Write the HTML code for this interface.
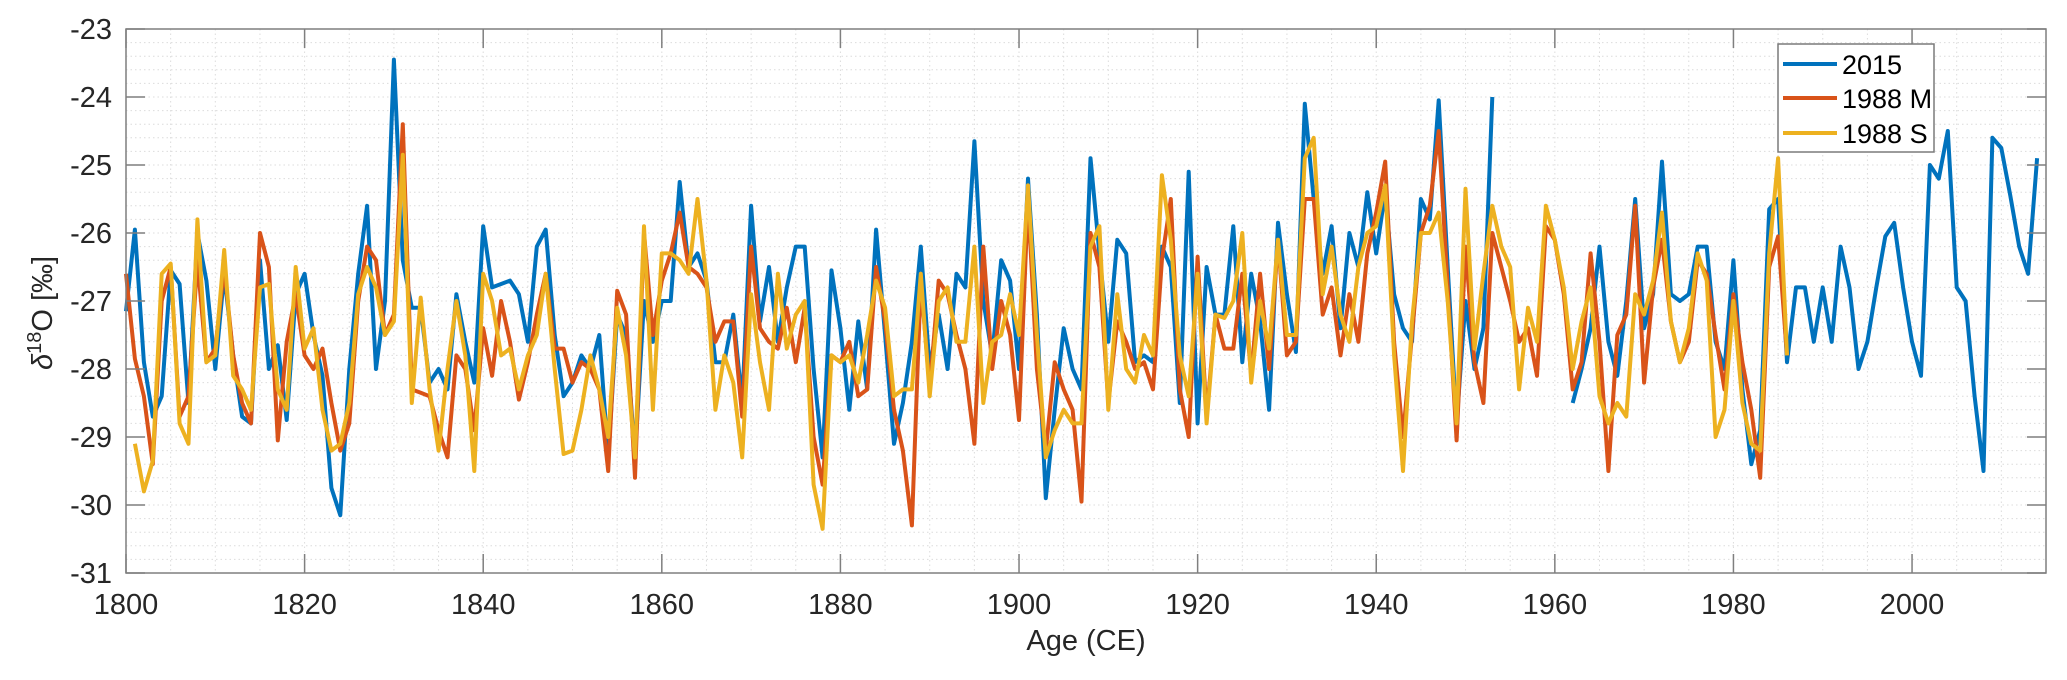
<!DOCTYPE html>
<html><head><meta charset="utf-8"><style>
html,body{margin:0;padding:0;background:#fff;}
svg{display:block;font-family:"Liberation Sans",Arial,sans-serif;}
</style></head><body>
<svg id="chart" width="2067" height="680" viewBox="0 0 2067 680" xmlns="http://www.w3.org/2000/svg">
<rect x="126" y="29" width="1920" height="544" fill="#fff"/>
<g id="grid"></g>
<g id="series"></g>
<g id="axes"></g>
<text x="1086" y="650" font-size="29" text-anchor="middle" fill="#262626">Age (CE)</text>
<text transform="translate(52,313) rotate(-90)" font-size="29" text-anchor="middle" fill="#262626"><tspan font-style="italic">δ</tspan><tspan dy="-11" font-size="20">18</tspan><tspan dy="11">O [‰]</tspan></text>
<g>
<rect x="1778" y="44" width="156" height="108" fill="#fff" stroke="#7a7a7a" stroke-width="1.5"/>
<line x1="1783" y1="64" x2="1837" y2="64" stroke="#0072BD" stroke-width="4"/>
<text x="1842" y="74" font-size="27" fill="#000">2015</text>
<line x1="1783" y1="98" x2="1837" y2="98" stroke="#D95319" stroke-width="4"/>
<text x="1842" y="108" font-size="27" fill="#000">1988 M</text>
<line x1="1783" y1="133" x2="1837" y2="133" stroke="#EDB120" stroke-width="4"/>
<text x="1842" y="143" font-size="27" fill="#000">1988 S</text>
</g>
</svg>
<script>
const xTicks = [1800,1820,1840,1860,1880,1900,1920,1940,1960,1980,2000];
const yTicks = [-23,-24,-25,-26,-27,-28,-29,-30,-31];
const blueStart = 1800;
const blueA = [-27.15,-25.95,-27.9,-28.7,-28.4,-26.55,-26.75,-28.5,-26.0,-26.7,-28.0,-26.6,-27.8,-28.7,-28.8,-26.4,-28.0,-27.65,-28.75,-26.9,-26.6,-27.5,-28.1,-29.75,-30.15,-28.0,-26.6,-25.6,-28.0,-27.0,-23.45,-26.4,-27.1,-27.1,-28.2,-28.0,-28.3,-26.9,-27.6,-28.2,-25.9,-26.8,-26.75,-26.7,-26.9,-27.6,-26.2,-25.95,-27.5,-28.4,-28.2,-27.8,-28.0,-27.5,-29.3,-27.2,-27.5,-29.3,-27.0,-27.6,-27.0,-27.0,-25.25,-26.5,-26.3,-26.7,-27.9,-27.9,-27.2,-28.5,-25.6,-27.3,-26.5,-27.6,-26.8,-26.2,-26.2,-28.0,-29.3,-26.55,-27.4,-28.6,-27.3,-28.3,-25.95,-27.5,-29.1,-28.5,-27.6,-26.2,-28.0,-27.2,-28.0,-26.6,-26.8,-24.65,-27.0,-27.8,-26.4,-26.7,-28.0,-25.2,-27.2,-29.9,-28.6,-27.4,-28.0,-28.3,-24.9,-26.3,-27.6,-26.1,-26.3,-27.9,-27.8,-27.9,-26.2,-26.5,-28.5,-25.1,-28.8,-26.5,-27.2,-27.2,-25.9,-27.9,-26.6,-27.3,-28.6,-25.85,-26.9,-27.75,-24.1,-25.5,-26.6,-25.9,-27.4,-26.0,-26.5,-25.4,-26.3,-25.4,-26.9,-27.4,-27.6,-25.5,-25.8,-24.05,-26.5,-28.8,-27.0,-28.0,-27.4,-24.0];
const blueStart2 = 1962;
const blueB = [-28.5,-28.0,-27.4,-26.2,-27.6,-28.1,-27.0,-25.5,-27.4,-26.9,-24.95,-26.9,-27.0,-26.9,-26.2,-26.2,-27.6,-28.0,-26.4,-28.3,-29.4,-28.9,-25.65,-25.5,-27.9,-26.8,-26.8,-27.6,-26.8,-27.6,-26.2,-26.8,-28.0,-27.6,-26.8,-26.05,-25.85,-26.8,-27.6,-28.1,-25.0,-25.2,-24.5,-26.8,-27.0,-28.4,-29.5,-24.6,-24.75,-25.45,-26.2,-26.6,-24.9];
const redStart = 1800;
const redVals = [-26.6,-27.85,-28.4,-29.4,-27.0,-26.5,-28.7,-28.4,-26.4,-27.9,-27.7,-26.5,-27.8,-28.5,-28.8,-26.0,-26.5,-29.05,-27.6,-26.9,-27.8,-28.0,-27.7,-28.5,-29.2,-28.8,-27.0,-26.2,-26.4,-27.5,-27.2,-24.4,-28.3,-28.35,-28.4,-28.9,-29.3,-27.8,-28.0,-28.9,-27.4,-28.1,-27.0,-27.6,-28.45,-27.9,-27.2,-26.6,-27.7,-27.7,-28.2,-27.9,-28.0,-28.3,-29.5,-26.85,-27.2,-29.6,-26.0,-27.5,-26.7,-26.3,-25.7,-26.5,-26.6,-26.8,-27.6,-27.3,-27.3,-28.7,-26.2,-27.4,-27.6,-27.7,-27.1,-27.9,-27.1,-29.0,-29.7,-27.8,-27.9,-27.6,-28.4,-28.3,-26.5,-27.3,-28.6,-29.2,-30.3,-26.7,-28.3,-26.7,-26.9,-27.5,-28.0,-29.1,-26.2,-28.0,-27.0,-27.5,-28.75,-25.5,-28.0,-29.2,-27.9,-28.3,-28.6,-29.95,-26.0,-26.5,-28.5,-27.3,-27.6,-28.0,-27.9,-28.3,-26.4,-25.5,-28.3,-29.0,-26.35,-28.7,-27.2,-27.7,-27.7,-26.6,-28.1,-26.6,-28.0,-26.1,-27.8,-27.6,-25.5,-25.5,-27.2,-26.8,-27.8,-26.9,-27.6,-26.3,-25.7,-24.95,-27.6,-29.0,-27.5,-26.0,-25.6,-24.5,-26.8,-29.05,-26.2,-27.9,-28.5,-26.0,-26.5,-27.0,-27.6,-27.4,-28.1,-25.9,-26.1,-26.9,-28.3,-27.9,-26.3,-27.6,-29.5,-27.5,-27.2,-25.6,-28.2,-26.8,-26.1,-27.3,-27.9,-27.6,-26.4,-26.6,-27.5,-28.3,-26.9,-27.9,-28.6,-29.6,-26.5,-26.05,-27.8];
const yellowStart = 1801;
const yellowVals = [-29.1,-29.8,-29.35,-26.6,-26.45,-28.8,-29.1,-25.8,-27.9,-27.8,-26.25,-28.1,-28.3,-28.6,-26.8,-26.75,-28.3,-28.6,-26.5,-27.7,-27.4,-28.6,-29.2,-29.1,-28.5,-26.9,-26.5,-26.8,-27.5,-27.3,-24.85,-28.5,-26.95,-28.3,-29.2,-28.0,-27.0,-27.8,-29.5,-26.6,-27.0,-27.8,-27.7,-28.3,-27.8,-27.5,-26.6,-28.0,-29.25,-29.2,-28.6,-27.8,-28.3,-29.0,-27.1,-27.8,-29.3,-25.9,-28.6,-26.3,-26.3,-26.4,-26.6,-25.5,-26.7,-28.6,-27.8,-28.2,-29.3,-26.9,-27.9,-28.6,-26.6,-27.7,-27.2,-27.0,-29.7,-30.35,-27.8,-27.9,-27.8,-28.2,-27.5,-26.7,-27.1,-28.4,-28.3,-28.3,-26.6,-28.4,-27.0,-26.8,-27.6,-27.6,-26.2,-28.5,-27.6,-27.5,-26.9,-27.5,-25.3,-27.5,-29.3,-28.9,-28.6,-28.8,-28.8,-26.2,-25.9,-28.6,-26.9,-28.0,-28.2,-27.5,-27.8,-25.15,-26.1,-27.8,-28.4,-26.6,-28.8,-27.2,-27.25,-27.0,-26.0,-28.2,-27.0,-27.7,-26.1,-27.5,-27.5,-24.9,-24.6,-26.9,-26.2,-27.2,-27.6,-26.5,-26.0,-25.9,-25.3,-27.8,-29.5,-27.3,-26.0,-26.0,-25.7,-27.0,-28.8,-25.35,-27.7,-26.6,-25.6,-26.2,-26.5,-28.3,-27.1,-27.6,-25.6,-26.1,-26.8,-28.0,-27.3,-26.8,-28.4,-28.8,-28.5,-28.7,-26.9,-27.2,-26.7,-25.7,-27.3,-27.9,-27.4,-26.3,-26.7,-29.0,-28.6,-27.0,-28.5,-29.1,-29.2,-26.3,-24.9,-27.8];

const X0=126, X1=2046, Y0=29, Y1=573, XMIN=1800, XMAX=2015, YMIN=-31, YMAX=-23;
const sx = v => X0 + (v-XMIN)/(XMAX-XMIN)*(X1-X0);
const sy = v => Y1 - (v-YMIN)/(YMAX-YMIN)*(Y1-Y0);
const NS='http://www.w3.org/2000/svg';
function mk(tag, attrs, parent){const e=document.createElementNS(NS,tag);for(const k in attrs)e.setAttribute(k,attrs[k]);parent.appendChild(e);return e;}
const grid=document.getElementById('grid'), axes=document.getElementById('axes'), ser=document.getElementById('series');
// minor grid
for(let yr=1805; yr<2015; yr+=5){
  const l=mk('line',{x1:sx(yr),x2:sx(yr),y1:Y0,y2:Y1,stroke:'#dcdcdc','stroke-width':1,'stroke-dasharray':'1.5 3'},grid);
  
  
}
for(let i=1;i<40;i++){
  const v=YMIN+i*0.2;
  const l=mk('line',{x1:X0,x2:X1,y1:sy(v),y2:sy(v),stroke:'#dcdcdc','stroke-width':1,'stroke-dasharray':'1.5 3'},grid);
  
  
}
// series
function drawLine(start, vals, color, name){
  const pts=vals.map((v,i)=>sx(start+i).toFixed(1)+','+sy(v).toFixed(1)).join(' ');
  const p=mk('polyline',{points:pts,fill:'none',stroke:color,'stroke-width':4,'stroke-linejoin':'round'},ser);
  
  
}
drawLine(blueStart, blueA, '#0072BD', 'series-2015-part1');
drawLine(blueStart2, blueB, '#0072BD', 'series-2015-part2');
drawLine(redStart, redVals, '#D95319', 'series-1988m');
drawLine(yellowStart, yellowVals, '#EDB120', 'series-1988s');
// axes box
const box=mk('rect',{x:X0,y:Y0,width:X1-X0,height:Y1-Y0,fill:'none',stroke:'#7f7f7f','stroke-width':1.5},axes);


xTicks.forEach(t=>{
  const x=sx(t);
  const a=mk('line',{x1:x,x2:x,y1:Y1,y2:Y1-19,stroke:'#7f7f7f','stroke-width':1.5},axes);
  
  
  const b=mk('line',{x1:x,x2:x,y1:Y0,y2:Y0+19,stroke:'#7f7f7f','stroke-width':1.5},axes);
  
  
  const tx=mk('text',{x:x,y:Y1+41,'font-size':29,'text-anchor':'middle',fill:'#262626'},axes);
  tx.textContent=t;
  
  
});
yTicks.forEach(t=>{
  const y=sy(t);
  const a=mk('line',{x1:X0,x2:X0+19,y1:y,y2:y,stroke:'#7f7f7f','stroke-width':1.5},axes);
  
  
  const b=mk('line',{x1:X1,x2:X1-19,y1:y,y2:y,stroke:'#7f7f7f','stroke-width':1.5},axes);
  
  
  const tx=mk('text',{x:X0-14,y:y+10,'font-size':29,'text-anchor':'end',fill:'#262626'},axes);
  tx.textContent=t;
  
  
});
</script>
</body></html>
